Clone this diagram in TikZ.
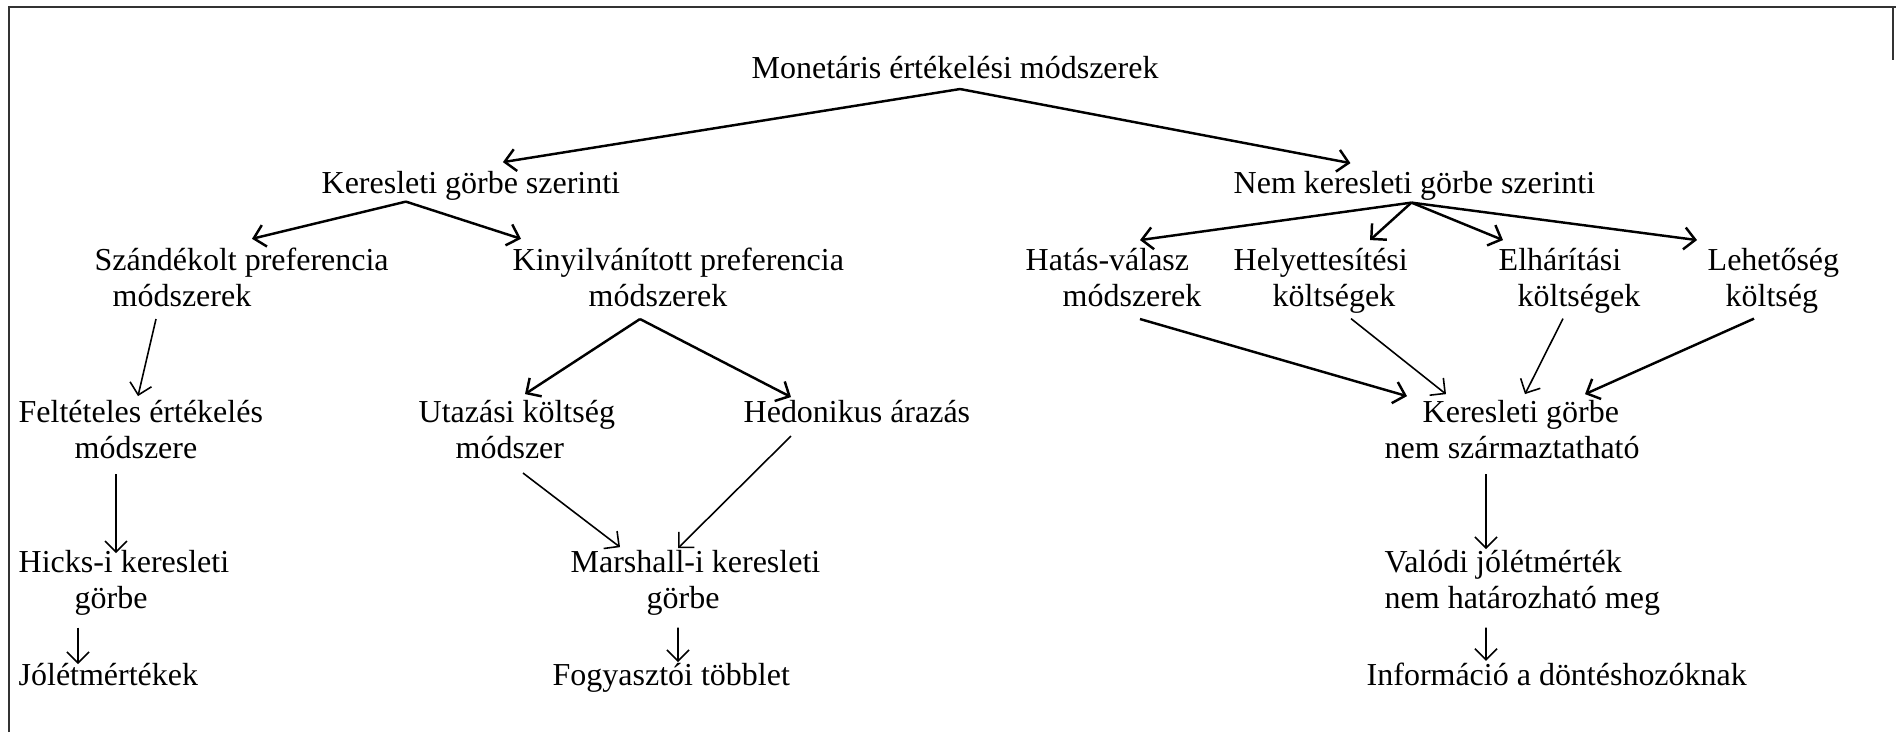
\documentclass[tikz,border=0pt]{standalone}
\usepackage{fontspec}
\setmainfont{Liberation Serif}
\usetikzlibrary{arrows.meta}

\tikzset{
  lbl/.style={inner sep=0pt, anchor=base west, align=left,
    font=\fontsize{9.1}{10.24}\selectfont},
  arr/.style={-{Straight Barb[length=1.1mm,width=2.2mm]}, line width=0.7pt},
  arrthin/.style={-{Straight Barb[length=1.1mm,width=2.2mm]}, line width=0.45pt},
}

\begin{document}
\begin{tikzpicture}
\useasboundingbox (0,0) rectangle (18.96,-7.32);

% FRAME
\draw[line width=0.6pt, black!80] (0.09,-7.32) -- (0.09,-0.07) -- (18.96,-0.07);
\draw[line width=0.6pt, black!80] (18.93,-0.07) -- (18.93,-0.6);

% NODES (base = baseline of the last line)
% top
\node[lbl] (mon) at (7.51,-0.78) {Monetáris értékelési módszerek};
% second row
\node[lbl] (kg) at (3.21,-1.93) {Keresleti görbe szerinti};
\node[lbl] (nkg) at (12.33,-1.93) {Nem keresleti görbe szerinti};
% methods
\node[lbl] (szand) at (0.94,-3.06) {Szándékolt preferencia\\\hspace*{1.8mm}módszerek};
\node[lbl] (kinyil) at (5.12,-3.06) {Kinyilvánított preferencia\\\hspace*{7.6mm}módszerek};
\node[lbl] (hatas) at (10.25,-3.06) {Hatás-válasz\\\hspace*{3.7mm}módszerek};
\node[lbl] (helyet) at (12.33,-3.06) {Helyettesítési\\\hspace*{3.9mm}költségek};
\node[lbl] (elhar) at (14.98,-3.06) {Elhárítási\\\hspace*{1.9mm}költségek};
\node[lbl] (lehet) at (17.07,-3.06) {Lehetőség\\\hspace*{1.8mm}költség};
% techniques
\node[lbl] (felt) at (0.18,-4.58) {Feltételes értékelés\\\hspace*{5.6mm}módszere};
\node[lbl] (utaz) at (4.18,-4.58) {Utazási költség\\\hspace*{3.7mm}módszer};
\node[lbl] (hedon) at (7.43,-4.22) {Hedonikus árazás};
\node[lbl] (kgnem) at (13.84,-4.58) {\hspace*{3.8mm}Keresleti görbe\\nem származtatható};
% curves
\node[lbl] (hicks) at (0.18,-6.08) {Hicks-i keresleti\\\hspace*{5.6mm}görbe};
\node[lbl] (marsh) at (5.70,-6.08) {Marshall-i keresleti\\\hspace*{7.6mm}görbe};
\node[lbl] (valodi) at (13.84,-6.08) {Valódi jólétmérték\\nem határozható meg};
% results
\node[lbl] (jolet) at (0.18,-6.85) {Jólétmértékek};
\node[lbl] (fogy) at (5.52,-6.85) {Fogyasztói többlet};
\node[lbl] (info) at (13.66,-6.85) {Információ a döntéshozóknak};

% ARROWS
% from the top
\coordinate (mon-apex) at ([xshift=0.5mm,yshift=-1mm]mon.south);
\draw[arr] (mon-apex) -- ([xshift=3.2mm,yshift=0.8mm]kg.north);
\draw[arr] (mon-apex) -- ([xshift=-6.4mm,yshift=0.7mm]nkg.north);

% demand curve branch
\coordinate (kg-apex) at ([xshift=-6.5mm,yshift=-0.1mm]kg.south);
\draw[arr] (kg-apex) -- ([xshift=15.8mm,yshift=0.8mm]szand.north west);
\draw[arr] (kg-apex) -- ([xshift=0.9mm,yshift=0.8mm]kinyil.north west);

% non demand curve branch
\coordinate (nkg-apex) at ([xshift=-0.3mm,yshift=-0.2mm]nkg.south);
\draw[arr] (nkg-apex) -- ([xshift=11.5mm,yshift=0.7mm]hatas.north west);
\draw[arr] (nkg-apex) -- ([xshift=13.7mm,yshift=0.7mm]helyet.north west);
\draw[arr] (nkg-apex) -- ([xshift=0.5mm,yshift=0.7mm]elhar.north west);
\draw[arr] (nkg-apex) -- ([xshift=-1mm,yshift=0.7mm]lehet.north west);

% revealed preference split
\coordinate (kinyil-apex) at ([xshift=12.8mm,yshift=-1.2mm]kinyil.south west);
\draw[arr] (kinyil-apex) -- ([xshift=10.7mm,yshift=0.5mm]utaz.north west);
\draw[arr] (kinyil-apex) -- ([xshift=4.8mm,yshift=0.2mm]hedon.north west);

% left column
\draw[arrthin] ([xshift=6.2mm,yshift=-1.2mm]szand.south west) -- ([xshift=12mm,yshift=0.3mm]felt.north west);
\draw[arrthin] ([xshift=9.8mm,yshift=-1.5mm]felt.south west) -- ([xshift=9.8mm,yshift=-0.4mm]hicks.north west);
\draw[arrthin] ([xshift=6mm,yshift=-1.2mm]hicks.south west) -- ([xshift=6mm,yshift=-0.2mm]jolet.north west);

% middle column
\draw[arrthin] ([xshift=10.5mm,yshift=-1.4mm]utaz.south west) -- ([xshift=5mm,yshift=0.2mm]marsh.north west);
\draw[arrthin] ([xshift=4.8mm,yshift=-1.3mm]hedon.south west) -- ([xshift=10.8mm,yshift=0.1mm]marsh.north west);
\draw[arrthin] ([xshift=10.8mm,yshift=-1.2mm]marsh.south west) -- ([xshift=12.6mm]fogy.north west);

% right column
\draw[arr] ([xshift=11.5mm,yshift=-1.2mm]hatas.south west) -- ([xshift=2.3mm,yshift=0.3mm]kgnem.north west);
\draw[arrthin] ([xshift=11.8mm,yshift=-0.5mm]helyet.south west) -- ([xshift=6.2mm,yshift=0.5mm]kgnem.north west);
\draw[arrthin] ([xshift=6.5mm,yshift=-0.5mm]elhar.south west) -- ([xshift=14.1mm,yshift=0.5mm]kgnem.north west);
\draw[arr] ([xshift=4.7mm,yshift=-0.5mm]lehet.south west) -- ([xshift=20.1mm,yshift=0.5mm]kgnem.north west);
\draw[arrthin] ([xshift=10.2mm,yshift=-1.5mm]kgnem.south west) -- ([xshift=10.2mm]valodi.north west);
\draw[arrthin] ([xshift=10.2mm,yshift=-1.2mm]valodi.south west) -- ([xshift=12mm,yshift=0.1mm]info.north west);

\end{tikzpicture}
\end{document}
